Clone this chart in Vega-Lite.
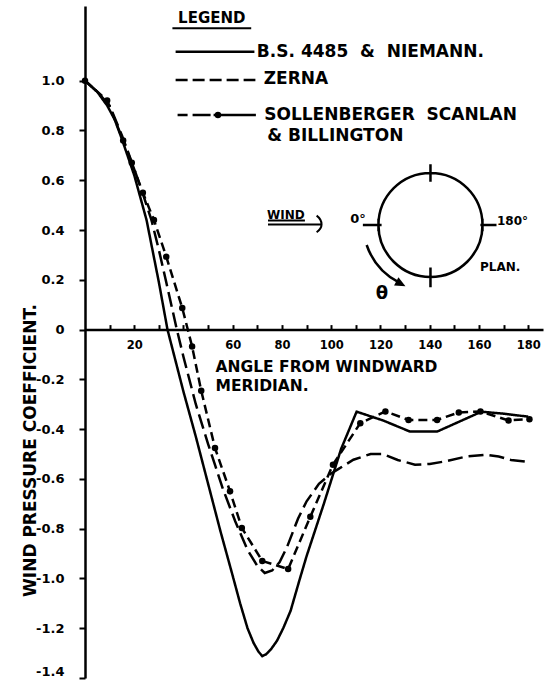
{
  "$schema": "https://vega.github.io/schema/vega-lite/v6.json",
  "autosize": "none",
  "width": 458,
  "height": 672,
  "padding": {"left": 85, "top": 6, "right": 1, "bottom": 5},
  "background": "white",
  "config": {"view": {"stroke": null}, "font": "DejaVu Sans", "axis": {"grid": false}},
  "resolve": {"axis": {"x": "independent"}},
  "datasets": {
    "curves": [
      {"series": "B.S. 4485 & NIEMANN", "angle": 0, "cp": 1.0},
      {"series": "B.S. 4485 & NIEMANN", "angle": 5, "cp": 0.955},
      {"series": "B.S. 4485 & NIEMANN", "angle": 9, "cp": 0.9},
      {"series": "B.S. 4485 & NIEMANN", "angle": 12, "cp": 0.845},
      {"series": "B.S. 4485 & NIEMANN", "angle": 15, "cp": 0.765},
      {"series": "B.S. 4485 & NIEMANN", "angle": 20, "cp": 0.62},
      {"series": "B.S. 4485 & NIEMANN", "angle": 25, "cp": 0.44},
      {"series": "B.S. 4485 & NIEMANN", "angle": 30, "cp": 0.19},
      {"series": "B.S. 4485 & NIEMANN", "angle": 33.5, "cp": 0.0},
      {"series": "B.S. 4485 & NIEMANN", "angle": 40, "cp": -0.25},
      {"series": "B.S. 4485 & NIEMANN", "angle": 45, "cp": -0.43},
      {"series": "B.S. 4485 & NIEMANN", "angle": 50, "cp": -0.62},
      {"series": "B.S. 4485 & NIEMANN", "angle": 55, "cp": -0.81},
      {"series": "B.S. 4485 & NIEMANN", "angle": 60, "cp": -0.99},
      {"series": "B.S. 4485 & NIEMANN", "angle": 63, "cp": -1.1},
      {"series": "B.S. 4485 & NIEMANN", "angle": 66, "cp": -1.2},
      {"series": "B.S. 4485 & NIEMANN", "angle": 68.5, "cp": -1.26},
      {"series": "B.S. 4485 & NIEMANN", "angle": 70.5, "cp": -1.295},
      {"series": "B.S. 4485 & NIEMANN", "angle": 72, "cp": -1.312},
      {"series": "B.S. 4485 & NIEMANN", "angle": 73.5, "cp": -1.305},
      {"series": "B.S. 4485 & NIEMANN", "angle": 75.5, "cp": -1.285},
      {"series": "B.S. 4485 & NIEMANN", "angle": 78, "cp": -1.25},
      {"series": "B.S. 4485 & NIEMANN", "angle": 80.5, "cp": -1.2},
      {"series": "B.S. 4485 & NIEMANN", "angle": 83.5, "cp": -1.13},
      {"series": "B.S. 4485 & NIEMANN", "angle": 87, "cp": -1.01},
      {"series": "B.S. 4485 & NIEMANN", "angle": 90, "cp": -0.91},
      {"series": "B.S. 4485 & NIEMANN", "angle": 97, "cp": -0.7},
      {"series": "B.S. 4485 & NIEMANN", "angle": 104, "cp": -0.48},
      {"series": "B.S. 4485 & NIEMANN", "angle": 110.3, "cp": -0.33},
      {"series": "B.S. 4485 & NIEMANN", "angle": 121, "cp": -0.365},
      {"series": "B.S. 4485 & NIEMANN", "angle": 132, "cp": -0.41},
      {"series": "B.S. 4485 & NIEMANN", "angle": 143, "cp": -0.41},
      {"series": "B.S. 4485 & NIEMANN", "angle": 152, "cp": -0.37},
      {"series": "B.S. 4485 & NIEMANN", "angle": 161, "cp": -0.33},
      {"series": "B.S. 4485 & NIEMANN", "angle": 170, "cp": -0.338},
      {"series": "B.S. 4485 & NIEMANN", "angle": 180, "cp": -0.35},
      {"series": "ZERNA", "angle": 0, "cp": 1.0},
      {"series": "ZERNA", "angle": 5, "cp": 0.955},
      {"series": "ZERNA", "angle": 10, "cp": 0.9},
      {"series": "ZERNA", "angle": 15, "cp": 0.78},
      {"series": "ZERNA", "angle": 20, "cp": 0.645},
      {"series": "ZERNA", "angle": 24, "cp": 0.53},
      {"series": "ZERNA", "angle": 27, "cp": 0.44},
      {"series": "ZERNA", "angle": 30, "cp": 0.32},
      {"series": "ZERNA", "angle": 33, "cp": 0.19},
      {"series": "ZERNA", "angle": 37.3, "cp": 0.0},
      {"series": "ZERNA", "angle": 40, "cp": -0.11},
      {"series": "ZERNA", "angle": 45, "cp": -0.3},
      {"series": "ZERNA", "angle": 50, "cp": -0.46},
      {"series": "ZERNA", "angle": 53, "cp": -0.55},
      {"series": "ZERNA", "angle": 56, "cp": -0.64},
      {"series": "ZERNA", "angle": 61, "cp": -0.77},
      {"series": "ZERNA", "angle": 66, "cp": -0.885},
      {"series": "ZERNA", "angle": 70, "cp": -0.95},
      {"series": "ZERNA", "angle": 73, "cp": -0.978},
      {"series": "ZERNA", "angle": 76, "cp": -0.968},
      {"series": "ZERNA", "angle": 79, "cp": -0.935},
      {"series": "ZERNA", "angle": 82, "cp": -0.875},
      {"series": "ZERNA", "angle": 86.5, "cp": -0.76},
      {"series": "ZERNA", "angle": 90, "cp": -0.69},
      {"series": "ZERNA", "angle": 95, "cp": -0.62},
      {"series": "ZERNA", "angle": 100, "cp": -0.578},
      {"series": "ZERNA", "angle": 103, "cp": -0.56},
      {"series": "ZERNA", "angle": 109, "cp": -0.523},
      {"series": "ZERNA", "angle": 116, "cp": -0.5},
      {"series": "ZERNA", "angle": 121, "cp": -0.5},
      {"series": "ZERNA", "angle": 127, "cp": -0.524},
      {"series": "ZERNA", "angle": 134, "cp": -0.543},
      {"series": "ZERNA", "angle": 140, "cp": -0.54},
      {"series": "ZERNA", "angle": 146, "cp": -0.53},
      {"series": "ZERNA", "angle": 155, "cp": -0.51},
      {"series": "ZERNA", "angle": 163, "cp": -0.503},
      {"series": "ZERNA", "angle": 168, "cp": -0.51},
      {"series": "ZERNA", "angle": 173, "cp": -0.524},
      {"series": "ZERNA", "angle": 180, "cp": -0.532},
      {"series": "SOLLENBERGER SCANLAN & BILLINGTON", "angle": 0, "cp": 1.0},
      {"series": "SOLLENBERGER SCANLAN & BILLINGTON", "angle": 9, "cp": 0.92},
      {"series": "SOLLENBERGER SCANLAN & BILLINGTON", "angle": 15.5, "cp": 0.76},
      {"series": "SOLLENBERGER SCANLAN & BILLINGTON", "angle": 19, "cp": 0.67},
      {"series": "SOLLENBERGER SCANLAN & BILLINGTON", "angle": 23.5, "cp": 0.55},
      {"series": "SOLLENBERGER SCANLAN & BILLINGTON", "angle": 28, "cp": 0.44},
      {"series": "SOLLENBERGER SCANLAN & BILLINGTON", "angle": 33, "cp": 0.293},
      {"series": "SOLLENBERGER SCANLAN & BILLINGTON", "angle": 39.5, "cp": 0.087},
      {"series": "SOLLENBERGER SCANLAN & BILLINGTON", "angle": 43.5, "cp": -0.068},
      {"series": "SOLLENBERGER SCANLAN & BILLINGTON", "angle": 47.2, "cp": -0.246},
      {"series": "SOLLENBERGER SCANLAN & BILLINGTON", "angle": 52.8, "cp": -0.476},
      {"series": "SOLLENBERGER SCANLAN & BILLINGTON", "angle": 58.9, "cp": -0.65},
      {"series": "SOLLENBERGER SCANLAN & BILLINGTON", "angle": 63.7, "cp": -0.797},
      {"series": "SOLLENBERGER SCANLAN & BILLINGTON", "angle": 72, "cp": -0.93},
      {"series": "SOLLENBERGER SCANLAN & BILLINGTON", "angle": 82.5, "cp": -0.962},
      {"series": "SOLLENBERGER SCANLAN & BILLINGTON", "angle": 91.5, "cp": -0.752},
      {"series": "SOLLENBERGER SCANLAN & BILLINGTON", "angle": 100.7, "cp": -0.543},
      {"series": "SOLLENBERGER SCANLAN & BILLINGTON", "angle": 111.8, "cp": -0.376},
      {"series": "SOLLENBERGER SCANLAN & BILLINGTON", "angle": 122, "cp": -0.329},
      {"series": "SOLLENBERGER SCANLAN & BILLINGTON", "angle": 131.4, "cp": -0.363},
      {"series": "SOLLENBERGER SCANLAN & BILLINGTON", "angle": 143, "cp": -0.363},
      {"series": "SOLLENBERGER SCANLAN & BILLINGTON", "angle": 151.8, "cp": -0.333},
      {"series": "SOLLENBERGER SCANLAN & BILLINGTON", "angle": 160.6, "cp": -0.329},
      {"series": "SOLLENBERGER SCANLAN & BILLINGTON", "angle": 172, "cp": -0.365},
      {"series": "SOLLENBERGER SCANLAN & BILLINGTON", "angle": 180.5, "cp": -0.36}
    ]
  },
  "layer": [
    {
      "data": {"name": "curves"},
      "mark": {"type": "line", "color": "black", "strokeWidth": 2.5, "strokeCap": "butt"},
      "encoding": {
        "x": {
          "field": "angle", "type": "quantitative",
          "scale": {"domain": [0, 186], "nice": false, "zero": false},
          "axis": {
            "orient": "bottom", "offset": -348.4,
            "values": [10, 20, 30, 40, 50, 60, 70, 80, 90, 100, 110, 120, 130, 140, 150, 160, 170, 180],
            "labels": false,
            "domainColor": "black", "domainWidth": 2.5,
            "tickColor": "black", "tickWidth": 2, "tickSize": -5,
            "title": ["ANGLE FROM WINDWARD", "MERIDIAN."],
            "titleX": 130, "titleY": 30, "titleAlign": "left", "titleBaseline": "top",
            "titleFontSize": 15.5, "titleFontWeight": "bold", "titleColor": "black", "titleLineHeight": 19
          }
        },
        "y": {
          "field": "cp", "type": "quantitative",
          "scale": {"domain": [-1.4, 1.3], "nice": false, "zero": false},
          "axis": {
            "orient": "left",
            "values": [-1.4, -1.3, -1.2, -1.1, -1.0, -0.9, -0.8, -0.7, -0.6, -0.5, -0.4, -0.3, -0.2, -0.1, 0, 0.1, 0.2, 0.3, 0.4, 0.5, 0.6, 0.7, 0.8, 0.9, 1.0],
            "labelExpr": "abs(round(datum.value * 10)) % 2 == 0 ? (datum.value == 0 ? '0' : replace(format(datum.value, '.1f'), '\u2212', '-')) : ''",
            "labelOverlap": false, "labelFlush": true,
            "domainColor": "black", "domainWidth": 2.5,
            "tickColor": "black", "tickWidth": 2, "tickSize": 6,
            "labelPadding": 15, "labelFontSize": 13, "labelFontWeight": "bold", "labelColor": "black",
            "title": "WIND PRESSURE COEFFICIENT.",
            "titleX": -55, "titleY": 444, "titleAngle": -90, "titleAlign": "center", "titleBaseline": "middle",
            "titleFontSize": 17, "titleFontWeight": "bold", "titleColor": "black"
          }
        },
        "strokeDash": {
          "field": "series", "type": "nominal",
          "scale": {"domain": ["B.S. 4485 & NIEMANN", "ZERNA", "SOLLENBERGER SCANLAN & BILLINGTON"], "range": [[1, 0], [15, 6], [9, 5]]},
          "legend": null
        }
      }
    },
    {
      "data": {"name": "curves"},
      "transform": [{"filter": "datum.series == 'SOLLENBERGER SCANLAN & BILLINGTON'"}],
      "mark": {"type": "point", "filled": true, "color": "black", "size": 42, "opacity": 1},
      "encoding": {
        "x": {
          "field": "angle", "type": "quantitative",
          "axis": {
            "orient": "bottom", "offset": -348.4,
            "values": [20, 60, 80, 100, 120, 140, 160, 180],
            "domain": false, "ticks": false, "labelOverlap": false, "labelFlush": false,
            "labelPadding": 10, "labelFontSize": 11.5, "labelFontWeight": "bold", "labelColor": "black",
            "title": null
          }
        },
        "y": {"field": "cp", "type": "quantitative"}
      }
    },
    {
      "data": {"values": [{}]},
      "mark": {"type": "text", "text": "LEGEND", "fontSize": 15, "fontWeight": "bold", "align": "center", "baseline": "middle", "color": "black"},
      "encoding": {"x": {"datum": 51.5, "type": "quantitative", "axis": null}, "y": {"datum": 1.25, "type": "quantitative"}}
    },
    {
      "data": {"values": [{}]},
      "mark": {"type": "rule", "color": "black", "strokeWidth": 2},
      "encoding": {"x": {"datum": 35.5, "type": "quantitative", "axis": null}, "x2": {"datum": 67.5}, "y": {"datum": 1.2105, "type": "quantitative"}}
    },
    {
      "data": {"values": [{}]},
      "mark": {"type": "rule", "color": "black", "strokeWidth": 2.5},
      "encoding": {"x": {"datum": 36.8, "type": "quantitative", "axis": null}, "x2": {"datum": 68.8}, "y": {"datum": 1.1165, "type": "quantitative"}}
    },
    {
      "data": {"values": [{}]},
      "mark": {"type": "rule", "color": "black", "strokeWidth": 2.5, "strokeDash": [12, 5]},
      "encoding": {"x": {"datum": 36.8, "type": "quantitative", "axis": null}, "x2": {"datum": 69.2}, "y": {"datum": 1.003, "type": "quantitative"}}
    },
    {
      "data": {"values": [{}]},
      "mark": {"type": "rule", "color": "black", "strokeWidth": 2.5, "strokeDash": [10, 5, 18, 3, 200, 0]},
      "encoding": {"x": {"datum": 37.6, "type": "quantitative", "axis": null}, "x2": {"datum": 69.4}, "y": {"datum": 0.862, "type": "quantitative"}}
    },
    {
      "data": {"values": [{}]},
      "mark": {"type": "point", "filled": true, "color": "black", "size": 42, "opacity": 1},
      "encoding": {"x": {"datum": 54.0, "type": "quantitative", "axis": null}, "y": {"datum": 0.862, "type": "quantitative"}}
    },
    {
      "data": {"values": [{}]},
      "mark": {"type": "text", "text": "B.S. 4485\u00a0 &\u00a0 NIEMANN.", "fontSize": 17, "fontWeight": "bold", "align": "left", "baseline": "middle", "color": "black"},
      "encoding": {"x": {"datum": 69.8, "type": "quantitative", "axis": null}, "y": {"datum": 1.1165, "type": "quantitative"}}
    },
    {
      "data": {"values": [{}]},
      "mark": {"type": "text", "text": "ZERNA", "fontSize": 17, "fontWeight": "bold", "align": "left", "baseline": "middle", "color": "black"},
      "encoding": {"x": {"datum": 72.6, "type": "quantitative", "axis": null}, "y": {"datum": 1.005, "type": "quantitative"}}
    },
    {
      "data": {"values": [{}]},
      "mark": {"type": "text", "text": "SOLLENBERGER\u00a0 SCANLAN", "fontSize": 17, "fontWeight": "bold", "align": "left", "baseline": "middle", "color": "black"},
      "encoding": {"x": {"datum": 72.8, "type": "quantitative", "axis": null}, "y": {"datum": 0.864, "type": "quantitative"}}
    },
    {
      "data": {"values": [{}]},
      "mark": {"type": "text", "text": "& BILLINGTON", "fontSize": 17, "fontWeight": "bold", "align": "left", "baseline": "middle", "color": "black"},
      "encoding": {"x": {"datum": 74.0, "type": "quantitative", "axis": null}, "y": {"datum": 0.778, "type": "quantitative"}}
    },
    {
      "data": {"values": [{}]},
      "mark": {"type": "point", "shape": "M1,0A1,1,0,1,1,-1,0A1,1,0,1,1,1,0Z M0,-1.17L0,-0.83 M0,0.82L0,1.2 M-1.3,0L-0.94,0 M-1,-0.12L-1,0.12 M0.96,0L1.27,0 M1,-0.12L1,0.12", "size": 10816, "filled": false, "color": "black", "strokeWidth": 2.5, "opacity": 1},
      "encoding": {"x": {"datum": 140.3, "type": "quantitative", "axis": null}, "y": {"datum": 0.4202, "type": "quantitative"}}
    },
    {
      "data": {"values": [{}]},
      "mark": {"type": "point", "shape": "M-1.227,0.385A1.28,1.28,0,0,0,-0.6,1.11", "size": 10816, "filled": false, "color": "black", "strokeWidth": 2.5, "opacity": 1},
      "encoding": {"x": {"datum": 140.3, "type": "quantitative", "axis": null}, "y": {"datum": 0.4202, "type": "quantitative"}}
    },
    {
      "data": {"values": [{}]},
      "mark": {"type": "point", "shape": "M-0.481,1.177L-0.700,1.164L-0.616,1.004Z", "size": 10816, "filled": true, "color": "black", "opacity": 1},
      "encoding": {"x": {"datum": 140.3, "type": "quantitative", "axis": null}, "y": {"datum": 0.4202, "type": "quantitative"}}
    },
    {
      "data": {"values": [{}]},
      "mark": {"type": "point", "shape": "M-1,0.06L1.04,0.06M0.87,-0.28Q1.06,-0.14,1.06,0.06Q1.06,0.22,0.87,0.36M-1,-0.09L0.42,-0.09", "size": 2704, "filled": false, "color": "black", "strokeWidth": 2, "opacity": 1},
      "encoding": {"x": {"datum": 84.88, "type": "quantitative", "axis": null}, "y": {"datum": 0.4283, "type": "quantitative"}}
    },
    {
      "data": {"values": [{}]},
      "mark": {"type": "text", "text": "WIND", "fontSize": 12, "fontWeight": "bold", "align": "center", "baseline": "middle", "color": "black"},
      "encoding": {"x": {"datum": 81.6, "type": "quantitative", "axis": null}, "y": {"datum": 0.46, "type": "quantitative"}}
    },
    {
      "data": {"values": [{}]},
      "mark": {"type": "text", "text": "0°", "fontSize": 13, "fontWeight": "bold", "align": "center", "baseline": "middle", "color": "black"},
      "encoding": {"x": {"datum": 110.9, "type": "quantitative", "axis": null}, "y": {"datum": 0.444, "type": "quantitative"}}
    },
    {
      "data": {"values": [{}]},
      "mark": {"type": "text", "text": "180°", "fontSize": 12, "fontWeight": "bold", "align": "left", "baseline": "middle", "color": "black"},
      "encoding": {"x": {"datum": 167.3, "type": "quantitative", "axis": null}, "y": {"datum": 0.436, "type": "quantitative"}}
    },
    {
      "data": {"values": [{}]},
      "mark": {"type": "text", "text": "PLAN.", "fontSize": 12, "fontWeight": "bold", "align": "left", "baseline": "middle", "color": "black"},
      "encoding": {"x": {"datum": 160.4, "type": "quantitative", "axis": null}, "y": {"datum": 0.2515, "type": "quantitative"}}
    },
    {
      "data": {"values": [{}]},
      "mark": {"type": "text", "text": "θ", "fontSize": 18, "fontWeight": "bold", "align": "center", "baseline": "middle", "color": "black"},
      "encoding": {"x": {"datum": 120.6, "type": "quantitative", "axis": null}, "y": {"datum": 0.143, "type": "quantitative"}}
    }
  ]
}
